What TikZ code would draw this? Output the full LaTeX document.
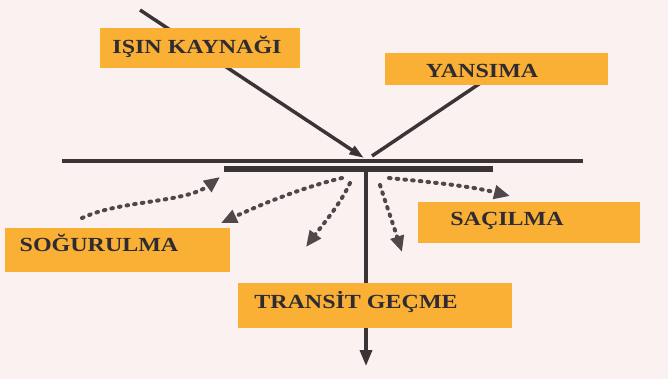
\documentclass[tikz,border=0pt]{standalone}
\usepackage{fontspec}
\setmainfont{Liberation Serif}
\usetikzlibrary{arrows.meta}
\definecolor{bgpink}{HTML}{FBF1F0}
\definecolor{boxorange}{HTML}{F9B035}
\definecolor{inkdark}{HTML}{3A3436}
\definecolor{txtdark}{HTML}{2E2B33}
\tikzset{
  labelbox/.style={fill=boxorange, draw=none, inner sep=0pt},
  labeltext/.style={anchor=base, inner sep=0pt, text=txtdark,
    font=\fontsize{15}{18}\selectfont\bfseries},
  ray/.style={draw=inkdark, line width=2.6pt},
  dotarrow/.style={draw=inkdark!90, line width=3pt, line cap=round,
    dash pattern=on 1.2pt off 4.6pt,
    -{Triangle[length=12pt,width=10pt]}},
}
\newcommand{\wide}[1]{\scalebox{1.2}[1]{#1}}
\begin{document}
\begin{tikzpicture}[x=0.75pt,y=-0.75pt]
\fill[bgpink] (0,0) rectangle (668,379);
\useasboundingbox (0,0) rectangle (668,379);

% coordinates
\coordinate (srcstart) at (140,10);
\coordinate (hit) at (364,158);
\coordinate (reflstart) at (372,156);
\coordinate (reflend) at (485,80);
\coordinate (surfL) at (62,161);
\coordinate (surfR) at (583,161);
\coordinate (slabL) at (224,169);
\coordinate (slabR) at (493,169);
\coordinate (transtop) at (366,169);
\coordinate (transend) at (366,366);

% rays behind boxes
\draw[ray, -{Triangle[length=11pt,width=7pt]}] (srcstart) -- (hit);
\draw[ray] (reflstart) -- (reflend);
\draw[ray, -{Triangle[length=12pt,width=9pt]}] (transtop) -- (transend);

% surfaces
\draw[draw=inkdark, line width=2.7pt] (surfL) -- (surfR);
\draw[draw=inkdark, line width=4.2pt] (slabL) -- (slabR);

% boxes
\node[labelbox, minimum width=150pt, minimum height=30pt] (src) at (200,48) {};
\node[labelbox, minimum width=167pt, minimum height=24pt] (yans) at (496.5,69) {};
\node[labelbox, minimum width=166.5pt, minimum height=30.75pt] (sac) at (529,222.5) {};
\node[labelbox, minimum width=168.75pt, minimum height=33pt] (sog) at (117.5,250) {};
\node[labelbox, minimum width=205.5pt, minimum height=33.75pt] (trans) at (375,305.5) {};

% texts
\node[labeltext] (srct) at (197,53) {\wide{IŞIN KAYNAĞI}};
\node[labeltext] (yanst) at (482,77) {\wide{YANSIMA}};
\node[labeltext] (sact) at (507,225) {\wide{SAÇILMA}};
\node[labeltext] (sogt) at (99,251) {\wide{SOĞURULMA}};
\node[labeltext] (transt) at (356,308) {\wide{TRANSİT GEÇME}};

% dotted arrows
\coordinate (a1s) at (82,218);
\coordinate (a1e) at (220,177);
\coordinate (a2s) at (342,178);
\coordinate (a2e) at (221,223);
\coordinate (a3s) at (350,183);
\coordinate (a3e) at (306,247);
\coordinate (a4s) at (380,185);
\coordinate (a4e) at (402,252);
\coordinate (a5s) at (389,178);
\coordinate (a5e) at (510,196);
\draw[dotarrow] (a1s) .. controls (120,200) and (185,203) .. (a1e);
\draw[dotarrow] (a2s) .. controls (300,188) and (260,205) .. (a2e);
\draw[dotarrow] (a3s) .. controls (340,205) and (320,228) .. (a3e);
\draw[dotarrow] (a4s) .. controls (388,210) and (395,230) .. (a4e);
\draw[dotarrow] (a5s) .. controls (430,182) and (470,186) .. (a5e);
\end{tikzpicture}
\end{document}
